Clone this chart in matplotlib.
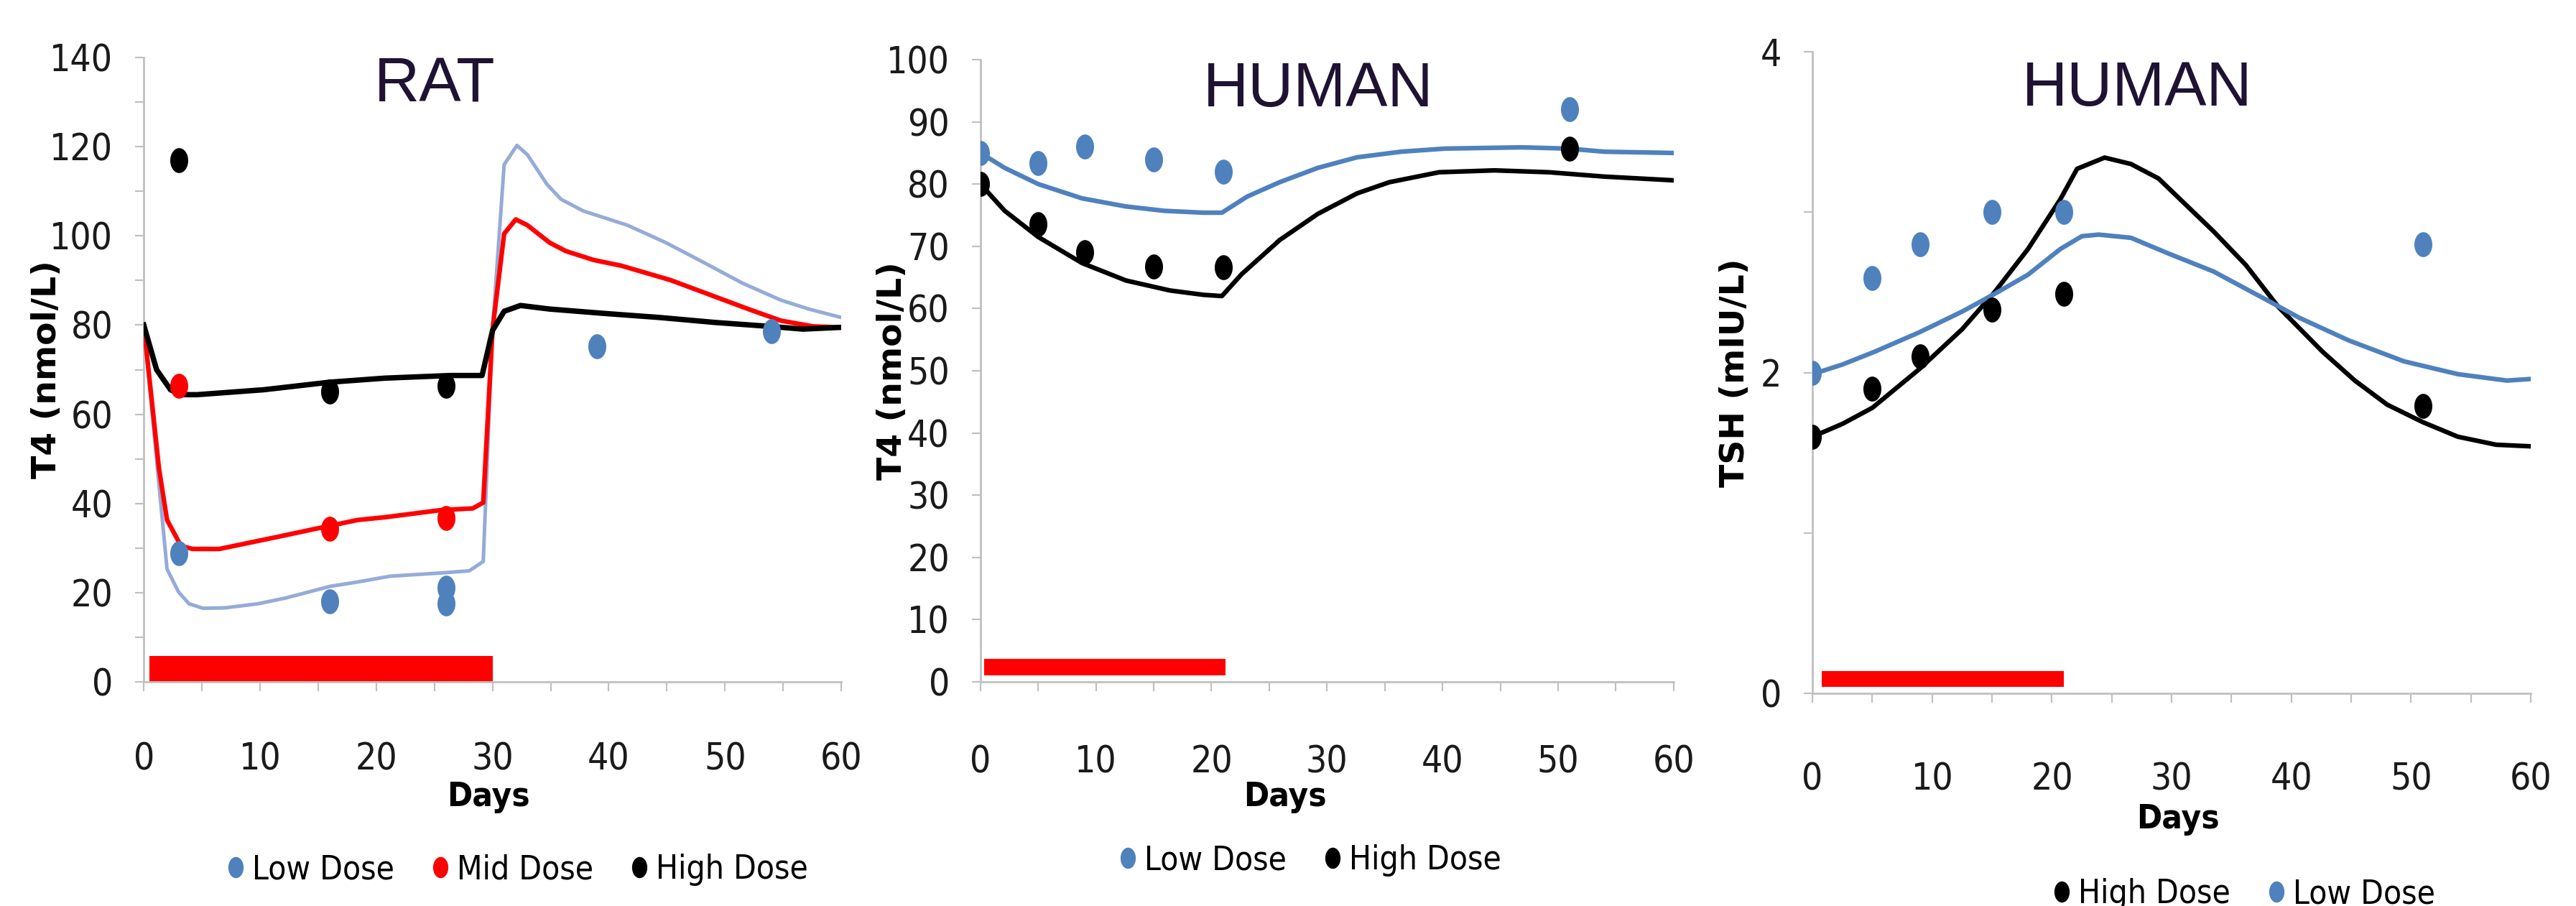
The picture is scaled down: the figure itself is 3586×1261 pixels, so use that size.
#!/usr/bin/env python3
"""
Rat and human T4 / TSH time courses: model curves (lines) vs observed means (dots).
"""

import numpy as np
import matplotlib

matplotlib.use("Agg")
import matplotlib.pyplot as plt
from matplotlib.ticker import MultipleLocator

# ---- RAT T4 model curves ----
rat_low_line_days = [0, 2.0, 3.0, 3.9, 5.1, 7, 9.8, 12.2, 16, 18.4, 21.2, 25.5, 28, 29.2, 30,
                     31.0, 32.1, 33, 34.7, 35.9, 37.8, 41.6, 44.9, 48.2, 51.5, 54.8, 57.2, 60]
rat_low_line = [80, 25.3, 20.1, 17.5, 16.5, 16.6, 17.5, 18.8, 21.4, 22.4, 23.7, 24.4, 24.9, 27, 79,
                116, 120.3, 118.2, 111.5, 108.2, 105.6, 102.4, 98.5, 94, 89.4, 85.6, 83.6, 81.7]
rat_mid_line_days = [0, 1.3, 2, 3.2, 4.2, 6.5, 8.9, 11.3, 16, 18.4, 20.7, 25.5, 28.3, 29.2, 30,
                     31, 32, 33, 34.9, 36.3, 38.7, 41.1, 45.3, 48.6, 52, 54.8, 57.6, 60]
rat_mid_line = [80, 48, 36.3, 30.5, 29.8, 29.8, 31.1, 32.4, 35, 36.3, 36.9, 38.5, 38.9, 40.2, 79,
                100.5, 103.7, 102.4, 98.5, 96.6, 94.6, 93.3, 90.1, 86.9, 83.6, 81, 79.7, 79.5]
rat_high_line_days = [0, 1.1, 2.3, 3.2, 4.6, 10.3, 16, 20.7, 26.4, 29.1, 30.0, 31.0, 32.4,
                      34.9, 39.7, 44.4, 49.1, 53.9, 56.7, 60]
rat_high_line = [80, 70, 65.5, 64.4, 64.4, 65.5, 67.2, 68.1, 68.7, 68.7, 78.8, 83.1, 84.4,
                 83.6, 82.6, 81.7, 80.6, 79.7, 79.1, 79.5]

# ---- RAT T4 observations ----
rat_low_days = [3, 16, 26, 26, 39, 54]
rat_low = [28.8, 18.1, 21.1, 17.5, 75.2, 78.7]
rat_mid_days = [3, 16, 26]
rat_mid = [66.4, 34.4, 36.7]
rat_high_days = [3, 16, 26]
rat_high = [116.9, 65.1, 66.4]

# ---- HUMAN T4 ----
hum_t4_low_line_days = [0, 2.1, 5, 8.8, 12.6, 15.9, 19.3, 20.9, 23.1, 25.9, 29.2, 32.6, 36.4,
                        40.2, 46.8, 50.9, 54, 60]
hum_t4_low_line = [85, 82.6, 80, 77.7, 76.4, 75.7, 75.4, 75.4, 78, 80.3, 82.6, 84.3, 85.2,
                   85.7, 85.9, 85.7, 85.2, 85]
hum_t4_high_line_days = [0, 2.1, 5, 8.8, 12.6, 16.4, 19.3, 20.9, 22.6, 25.9, 29.2, 32.6, 35.4,
                         39.7, 44.5, 49.2, 54, 60]
hum_t4_high_line = [80, 75.7, 71.5, 67.3, 64.5, 62.9, 62.2, 62, 65.5, 71, 75.2, 78.5, 80.3,
                    81.9, 82.2, 81.9, 81.2, 80.6]
hum_obs_days = [0, 5, 9, 15, 21, 51]
hum_t4_low = [85, 83.4, 86, 84, 82, 92]
hum_t4_high = [80, 73.5, 69, 66.8, 66.6, 85.7]

# ---- HUMAN TSH ----
hum_tsh_high_line_days = [0, 2.5, 5, 8.9, 12.5, 15.2, 18, 20.7, 22.1, 24.4, 26.6, 28.9, 33.5,
                          36.2, 38.9, 42.6, 45.3, 48, 51, 53.9, 57.1, 60]
hum_tsh_high_line = [1.6, 1.68, 1.78, 2.02, 2.27, 2.5, 2.77, 3.08, 3.27, 3.34, 3.3, 3.21, 2.88,
                     2.67, 2.41, 2.13, 1.95, 1.8, 1.69, 1.6, 1.55, 1.54]
hum_tsh_low_line_days = [0, 2.5, 5.2, 8.9, 12.5, 15.2, 18, 20.7, 22.5, 23.9, 26.6, 29.8, 33.5,
                         38, 40.7, 44.8, 49.4, 53.9, 58, 60]
hum_tsh_low_line = [1.99, 2.05, 2.13, 2.25, 2.38, 2.49, 2.61, 2.77, 2.85, 2.86, 2.84, 2.74, 2.63,
                    2.45, 2.34, 2.2, 2.07, 1.99, 1.95, 1.96]
hum_tsh_high = [1.6, 1.9, 2.1, 2.39, 2.49, 1.79]
hum_tsh_low = [2.0, 2.59, 2.8, 3.0, 3.0, 2.8]

# dosing period bars: (start day, end day, bottom, top)
rat_dosing = (0.5, 30, 0, 5.8)
hum_t4_dosing = (0.33, 21.2, 1.1, 3.7)
hum_tsh_dosing = (0.77, 21, 0.04, 0.14)

BLUE = "#4F81BD"
LIGHT_BLUE = "#95ABD8"
RED = "#FF0000"
BLACK = "#000000"
AXIS_GRAY = "#C0C0C0"
TITLE_COLOR = "#1F1232"

# no Calibri here; condensed DejaVu is the closest narrow face
NARROW = dict(family="DejaVu Sans", stretch="condensed")

# vertically stretched dot, like the original markers
_t = np.linspace(0, 2 * np.pi, 48)
ELLIPSE = np.column_stack([0.72 * np.cos(_t), np.sin(_t)])


def style_axes(ax, ymax, ymajor, yminor, xpad):
    ax.set_xlim(0, 60)
    ax.set_ylim(0, ymax)
    ax.xaxis.set_major_locator(MultipleLocator(10))
    ax.xaxis.set_minor_locator(MultipleLocator(5))
    ax.yaxis.set_major_locator(MultipleLocator(ymajor))
    if yminor:
        ax.yaxis.set_minor_locator(MultipleLocator(yminor))
    for side in ("top", "right"):
        ax.spines[side].set_visible(False)
    for side in ("left", "bottom"):
        ax.spines[side].set_color(AXIS_GRAY)
        ax.spines[side].set_linewidth(2.0)
    ax.tick_params(which="both", direction="out", length=9, width=1.6, color=AXIS_GRAY)
    ax.tick_params(axis="y", which="major", pad=22, labelsize=37, labelcolor="#1a1a1a")
    ax.tick_params(axis="x", which="major", pad=xpad, labelsize=37, labelcolor="#1a1a1a")
    for lab in ax.get_xticklabels() + ax.get_yticklabels():
        lab.set_family(NARROW["family"])
        lab.set_stretch(NARROW["stretch"])


def labels(ax, ylabel, ylab_x, xlab_x, xlab_y):
    ax.set_ylabel(ylabel, fontsize=34, fontweight="bold", family="DejaVu Sans")
    ax.yaxis.set_label_coords(ylab_x, 0.5)
    ax.yaxis.label.set_va("center")
    ax.set_xlabel("Days", fontsize=34, fontweight="bold", **NARROW)
    ax.xaxis.set_label_coords(xlab_x, xlab_y)
    ax.xaxis.label.set_va("center")


def dot(ax, x, y, color, label):
    ax.plot(x, y, linestyle="none", marker=ELLIPSE, markersize=25, color=color,
            markeredgewidth=0, label=label, zorder=4)


def dosing_bar(ax, spec):
    start, end, bottom, top = spec
    ax.bar([start], [top - bottom], width=end - start, bottom=bottom, align="edge",
           color=RED, linewidth=0, zorder=2)


def legend(ax, fig, cx, cy):
    ax.legend(loc="center", bbox_to_anchor=(cx, cy), bbox_transform=fig.transFigure,
              ncol=3, frameon=False, handletextpad=0.1, columnspacing=1.0,
              handlelength=0.8, markerscale=0.85,
              prop={"family": NARROW["family"], "stretch": NARROW["stretch"], "size": 33})


def main():
    fig = plt.figure(figsize=(35.87, 12.61), dpi=100)
    fig.patch.set_facecolor("white")

    ax1 = fig.add_axes([0.0558, 0.2474, 0.2707, 0.6891])
    ax2 = fig.add_axes([0.3805, 0.2474, 0.2690, 0.6868])
    ax3 = fig.add_axes([0.7034, 0.2347, 0.2788, 0.7082])

    # --- RAT T4 ---
    dosing_bar(ax1, rat_dosing)
    ax1.plot(rat_low_line_days, rat_low_line, color=LIGHT_BLUE, lw=3.6, zorder=3)
    ax1.plot(rat_mid_line_days, rat_mid_line, color=RED, lw=4.6, zorder=3)
    ax1.plot(rat_high_line_days, rat_high_line, color=BLACK, lw=5.4, zorder=3)
    dot(ax1, rat_low_days, rat_low, BLUE, "Low Dose")
    dot(ax1, rat_mid_days, rat_mid, RED, "Mid Dose")
    dot(ax1, rat_high_days, rat_high, BLACK, "High Dose")
    style_axes(ax1, 140, 20, 10, 51)
    labels(ax1, "T4 (nmol/L)", -0.139, 0.494, -0.185)
    ax1.text(0.417, 0.955, "RAT", transform=ax1.transAxes, ha="center", va="center",
             fontsize=63, color=TITLE_COLOR, family="Liberation Sans")
    legend(ax1, fig, 0.200, 0.040)

    # --- HUMAN T4 ---
    dosing_bar(ax2, hum_t4_dosing)
    ax2.plot(hum_t4_low_line_days, hum_t4_low_line, color=BLUE, lw=4.6, zorder=3)
    ax2.plot(hum_t4_high_line_days, hum_t4_high_line, color=BLACK, lw=4.6, zorder=3)
    dot(ax2, hum_obs_days, hum_t4_low, BLUE, "Low Dose")
    dot(ax2, hum_obs_days, hum_t4_high, BLACK, "High Dose")
    style_axes(ax2, 100, 10, None, 54)
    labels(ax2, "T4 (nmol/L)", -0.127, 0.439, -0.185)
    ax2.text(0.487, 0.951, "HUMAN", transform=ax2.transAxes, ha="center", va="center",
             fontsize=63, color=TITLE_COLOR, family="Liberation Sans")
    legend(ax2, fig, 0.5075, 0.050)

    # --- HUMAN TSH ---
    dosing_bar(ax3, hum_tsh_dosing)
    ax3.plot(hum_tsh_high_line_days, hum_tsh_high_line, color=BLACK, lw=4.6, zorder=3)
    ax3.plot(hum_tsh_low_line_days, hum_tsh_low_line, color=BLUE, lw=4.6, zorder=3)
    dot(ax3, hum_obs_days, hum_tsh_high, BLACK, "High Dose")
    dot(ax3, hum_obs_days, hum_tsh_low, BLUE, "Low Dose")
    style_axes(ax3, 4, 2, 1, 60)
    labels(ax3, "TSH (mIU/L)", -0.108, 0.509, -0.196)
    ax3.text(0.452, 0.941, "HUMAN", transform=ax3.transAxes, ha="center", va="center",
             fontsize=63, color=TITLE_COLOR, family="Liberation Sans")
    legend(ax3, fig, 0.870, 0.013)

    fig.savefig("out.png", dpi=100, facecolor="white")
    plt.close(fig)
    return 0


if __name__ == "__main__":
    raise SystemExit(main())
